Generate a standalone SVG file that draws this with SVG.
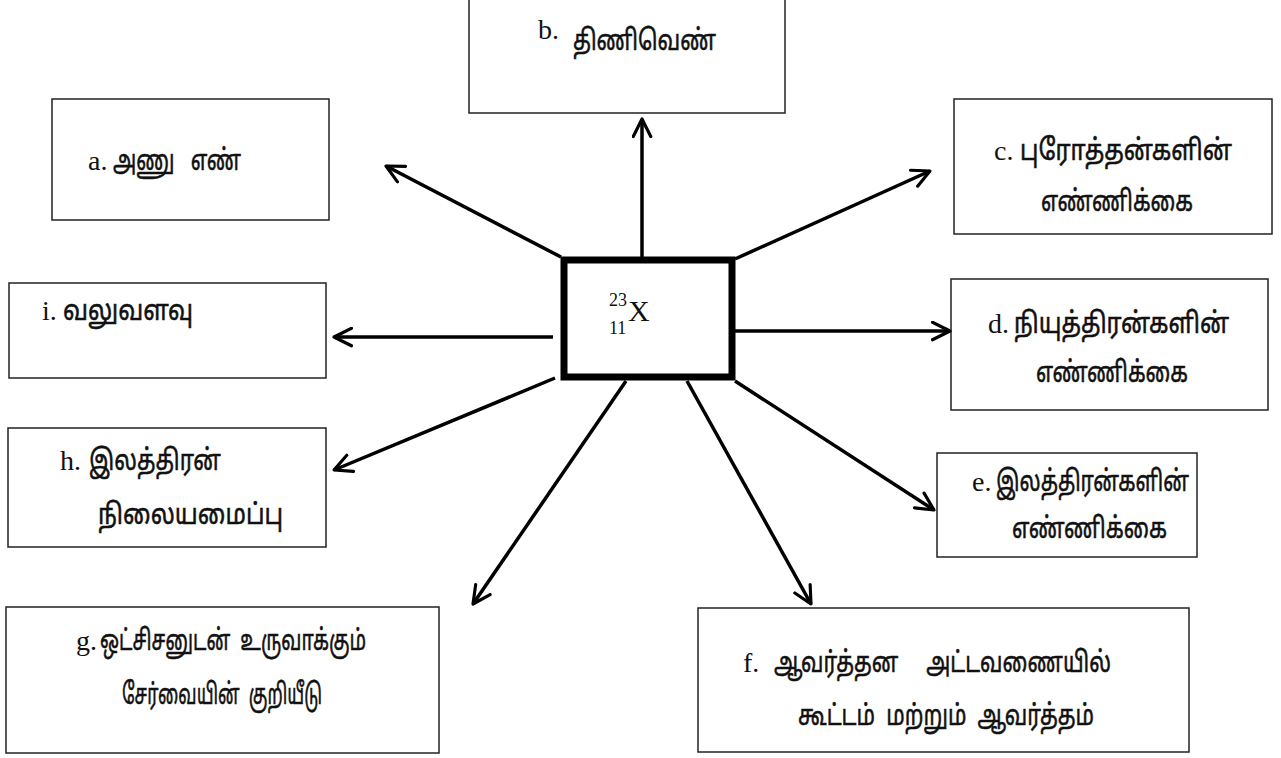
<svg xmlns="http://www.w3.org/2000/svg" width="1281" height="758" viewBox="0 0 1281 758">
<style>
.box{fill:#fff;stroke:#222;stroke-width:1.5}
.center{fill:#fff;stroke:#000;stroke-width:7}
.lat{font-family:"Liberation Serif","Times New Roman",serif;font-size:28px;fill:#111}
.tam{font-family:"Noto Sans Tamil","Lohit Tamil","Latha","Noto Sans",sans-serif;font-size:23px;fill:#111;stroke:#111;stroke-width:0.45}
.conn line{stroke:#000;stroke-width:3.5;marker-end:url(#ah)}
</style>
<defs>
<marker id="ah" viewBox="0 0 12 12" refX="11" refY="6" markerWidth="6" markerHeight="6" orient="auto" markerUnits="strokeWidth">
<path d="M1,1 L11,6 L1,11" fill="none" stroke="#000" stroke-width="1.8" stroke-linecap="round" stroke-linejoin="round"/>
</marker>
</defs>
<rect width="1281" height="758" fill="#fff"/>
<g id="node-b"><rect class="box" x="469" y="-2" width="316" height="115"/>
<text x="538" y="39" class="lat">b.</text>
<text class="tam" transform="translate(573,50) scale(1,1.25)" textLength="143" lengthAdjust="spacingAndGlyphs">திணிவெண்</text></g>
<g id="node-a"><rect class="box" x="52" y="99" width="277" height="121"/>
<text x="88" y="170" class="lat">a.</text>
<text class="tam" transform="translate(113,170) scale(1,1.25)" xml:space="preserve" textLength="128" lengthAdjust="spacingAndGlyphs">அணு   எண்</text></g>
<g id="node-c"><rect class="box" x="954" y="99" width="318" height="135"/>
<text x="994" y="160" class="lat">c.</text>
<text class="tam" transform="translate(1020,160) scale(1,1.25)" textLength="212" lengthAdjust="spacingAndGlyphs">புரோத்தன்களின்</text>
<text class="tam" transform="translate(1041,211) scale(1,1.25)" textLength="152" lengthAdjust="spacingAndGlyphs">எண்ணிக்கை</text></g>
<g id="node-d"><rect class="box" x="951" y="279" width="317" height="131"/>
<text x="988" y="333" class="lat">d.</text>
<text class="tam" transform="translate(1014,333) scale(1,1.25)" textLength="215" lengthAdjust="spacingAndGlyphs">நியுத்திரன்களின்</text>
<text class="tam" transform="translate(1036,382) scale(1,1.25)" textLength="152" lengthAdjust="spacingAndGlyphs">எண்ணிக்கை</text></g>
<g id="node-i"><rect class="box" x="9" y="283" width="317" height="95"/>
<text x="42" y="320" class="lat">i.</text>
<text class="tam" transform="translate(63,320) scale(1,1.25)" textLength="130" lengthAdjust="spacingAndGlyphs">வலுவளவு</text></g>
<g id="node-h"><rect class="box" x="8" y="428" width="318" height="119"/>
<text x="60" y="470" class="lat">h.</text>
<text class="tam" transform="translate(89,470) scale(1,1.25)" textLength="132" lengthAdjust="spacingAndGlyphs">இலத்திரன்</text>
<text class="tam" transform="translate(98,524) scale(1,1.25)" textLength="185" lengthAdjust="spacingAndGlyphs">நிலையமைப்பு</text></g>
<g id="node-e"><rect class="box" x="937" y="453" width="260" height="104"/>
<text x="972" y="491" class="lat">e.</text>
<text class="tam" transform="translate(996,491) scale(1,1.25)" textLength="193" lengthAdjust="spacingAndGlyphs">இலத்திரன்களின்</text>
<text class="tam" transform="translate(1012,538) scale(1,1.25)" textLength="155" lengthAdjust="spacingAndGlyphs">எண்ணிக்கை</text></g>
<g id="node-g"><rect class="box" x="6" y="607" width="433" height="146"/>
<text x="76" y="650" class="lat">g.</text>
<text class="tam" transform="translate(100,650) scale(1,1.25)" xml:space="preserve" textLength="266" lengthAdjust="spacingAndGlyphs">ஒட்சிசனுடன்  உருவாக்கும்</text>
<text class="tam" transform="translate(122,704) scale(1,1.25)" xml:space="preserve" textLength="200" lengthAdjust="spacingAndGlyphs">சேர்வையின்  குறியீடு</text></g>
<g id="node-f"><rect class="box" x="698" y="608" width="491" height="144"/>
<text x="743" y="672" class="lat">f.</text>
<text class="tam" transform="translate(774,672) scale(1,1.25)" xml:space="preserve" textLength="337" lengthAdjust="spacingAndGlyphs">ஆவர்த்தன     அட்டவணையில்</text>
<text class="tam" transform="translate(798,725) scale(1,1.25)" xml:space="preserve" textLength="296" lengthAdjust="spacingAndGlyphs">கூட்டம்  மற்றும்  ஆவர்த்தம்</text></g>
<g id="connectors" class="conn">
<line x1="642" y1="257" x2="642" y2="119"/>
<line x1="561" y1="257" x2="386" y2="166"/>
<line x1="735" y1="259" x2="930" y2="171"/>
<line x1="735" y1="331" x2="950" y2="331"/>
<line x1="553" y1="337" x2="334" y2="337"/>
<line x1="555" y1="378" x2="334" y2="470"/>
<line x1="626" y1="381" x2="473" y2="604"/>
<line x1="687" y1="381" x2="811" y2="604"/>
<line x1="735" y1="381" x2="934" y2="510"/>
</g>
<g id="node-x"><rect class="center" x="564" y="260" width="168" height="117"/>
<text x="609" y="306" font-family="Liberation Serif,serif" font-size="18" fill="#111">23</text>
<text x="609" y="334" font-family="Liberation Serif,serif" font-size="18" fill="#111">11</text>
<text x="628" y="321" font-family="Liberation Serif,serif" font-size="30" fill="#111">X</text></g>
</svg>
